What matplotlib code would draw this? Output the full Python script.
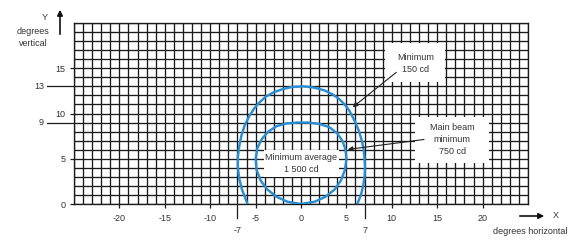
import matplotlib
matplotlib.use("Agg")
import matplotlib.pyplot as plt
from matplotlib.patches import Rectangle, FancyArrowPatch
import numpy as np

plt.rcParams['font.family'] = ['Liberation Sans', 'DejaVu Sans']

# ---- data ----
x_ticks = [-20, -15, -10, -5, 0, 5, 10, 15, 20]
y_ticks = [0, 5, 10, 15]
marked_y = [13, 9]
marked_x = [-7, 7]

# outer contour: Minimum 150 cd
outer_x = [-5.9, -6.0, -6.5, -6.8, -6.95, -6.95, -6.8, -6.55, -6.2, -5.7, -5.2, -4.6, -3.9, -3.0, -2.0, -1.0,
           0.3, 1.5, 2.6, 3.5, 4.2, 4.8, 5.2, 5.5, 6.0, 6.4, 6.7, 6.9, 7.0, 7.05, 7.0, 6.85, 6.6, 6.2]
outer_y = [0.0, 0.3, 1.6, 2.8, 4.0, 5.2, 6.4, 7.6, 8.7, 9.7, 10.5, 11.2, 11.85, 12.35, 12.7, 12.93,
           13.0, 12.85, 12.55, 12.1, 11.6, 11.0, 10.5, 10.0, 9.0, 8.0, 7.0, 6.0, 5.0, 4.0, 3.0, 2.0, 1.0, 0.0]

# inner contour: Main beam minimum 750 cd
inner_x = [0.0, 1.5, 2.7, 3.7, 4.4, 4.85, 5.0, 4.9, 4.6, 4.0, 3.1, 2.0, 0.8, -0.4, -1.6, -2.7, -3.6, -4.3,
           -4.8, -5.0, -4.9, -4.45, -3.7, -2.7, -1.5, 0.0]
inner_y = [0.0, 0.25, 0.8, 1.6, 2.6, 3.8, 5.0, 6.0, 6.9, 7.8, 8.5, 8.85, 9.0, 9.0, 8.9, 8.6, 8.0, 7.2,
           6.2, 5.0, 3.8, 2.6, 1.6, 0.8, 0.25, 0.0]

W, H = 576, 246
fig = plt.figure(figsize=(W / 100, H / 100), dpi=100)
ax = fig.add_axes([74 / W, 42 / H, 454 / W, 181 / H])
ax.set_xlim(-25, 25)
ax.set_ylim(0, 20)

gcol = '#1a1a1a'
tcol = '#333333'
fs = 6.5

ax.set_xticks(np.arange(-25, 26, 1), minor=True)
ax.set_yticks(np.arange(0, 21, 1), minor=True)
ax.set_xticks(x_ticks)
ax.set_yticks(y_ticks)
ax.set_xticklabels([str(v) for v in x_ticks])
ax.set_yticklabels([str(v) for v in y_ticks])
ax.grid(which='both', color=gcol, lw=0.95)
ax.set_axisbelow(True)
for s in ax.spines.values():
    s.set_color(gcol)
    s.set_linewidth(0.95)
ax.tick_params(which='major', length=3, width=0.9, color=gcol, labelsize=fs, labelcolor=tcol)
ax.tick_params(axis='x', which='major', pad=4)
ax.tick_params(axis='y', which='major', pad=3)
ax.tick_params(which='minor', length=0)

# marked values
for v in marked_y:
    ax.plot([-0.06, 0], [v, v], transform=ax.get_yaxis_transform(), clip_on=False, color=gcol, lw=0.9)
    ax.text(-0.066, v, str(v), transform=ax.get_yaxis_transform(), ha='right', va='center',
            fontsize=fs, color=tcol)
for v in marked_x:
    ax.plot([v, v], [0, -0.075], transform=ax.get_xaxis_transform(), clip_on=False, color=gcol, lw=0.9)
    ax.text(v, -0.145, str(v), transform=ax.get_xaxis_transform(), ha='center', va='center',
            fontsize=fs, color=tcol)

# contours
blue = '#2a8fd2'
ax.plot(outer_x, outer_y, color=blue, lw=1.75, zorder=3, solid_joinstyle='round')
ax.plot(inner_x, inner_y, color=blue, lw=1.75, zorder=3, solid_joinstyle='round')

# label boxes
boxes = [
    ((9.3, 13.45), 6.6, 4.3, (12.6, 15.55), "Minimum\n150 cd"),
    ((12.6, 4.5), 8.1, 5.1, (16.65, 7.15), "Main beam\nminimum\n750 cd"),
    ((-4.06, 3.0), 8.24, 3.0, (0.05, 4.52), "Minimum average\n1 500 cd"),
]
for (x0, y0), w, h, (tx, ty), txt in boxes:
    ax.add_patch(Rectangle((x0, y0), w, h, facecolor='white', edgecolor='none', zorder=4))
    ax.text(tx, ty, txt, ha='center', va='center', fontsize=fs, color=tcol, linespacing=1.45, zorder=5)

# arrows
for (x0, y0), (x1, y1) in [((10.5, 14.55), (5.7, 10.7)), ((13.55, 7.13), (5.15, 6.03))]:
    ax.annotate('', xy=(x1, y1), xytext=(x0, y0),
                arrowprops=dict(arrowstyle='-|>', color='#222222', lw=0.8, mutation_scale=7,
                                shrinkA=0, shrinkB=0), zorder=6)

# axis arrows and labels
fig.add_artist(FancyArrowPatch((60 / W, 1 - 37 / H), (60 / W, 1 - 7 / H), transform=fig.transFigure,
                               arrowstyle='-|>', mutation_scale=8, color='#111111', lw=1.2))
fig.add_artist(FancyArrowPatch((517 / W, 1 - 216 / H), (547 / W, 1 - 216 / H), transform=fig.transFigure,
                               arrowstyle='-|>', mutation_scale=8, color='#111111', lw=1.2))
fig.text(45 / W, 1 - 17 / H, "Y", ha='center', va='center', fontsize=fs, color=tcol)
fig.text(33 / W, 1 - 32 / H, "degrees", ha='center', va='center', fontsize=fs, color=tcol)
fig.text(33 / W, 1 - 44 / H, "vertical", ha='center', va='center', fontsize=fs, color=tcol)
fig.text(556 / W, 1 - 216 / H, "X", ha='center', va='center', fontsize=fs, color=tcol)
fig.text(530 / W, 1 - 231 / H, "degrees horizontal", ha='center', va='center', fontsize=fs, color=tcol)

fig.savefig("out.png", dpi=100, facecolor='white')
